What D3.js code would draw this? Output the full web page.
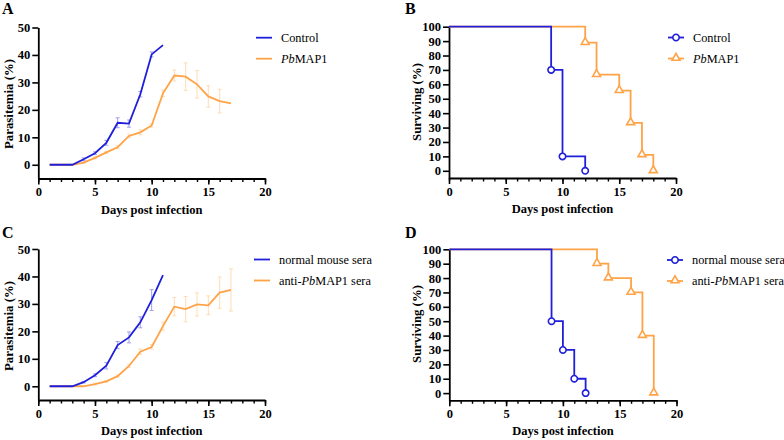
<!DOCTYPE html>
<html><head><meta charset="utf-8">
<script src="https://cdn.jsdelivr.net/npm/d3@7"></script>
<style>body{margin:0;background:#fff}svg{display:block}</style>
</head><body>
<script>
// ---------- data ----------
const daysFull = [1,2,3,4,5,6,7,8,9,10,11,12,13,14,15,16,17];
// Panel A
const aControl    = [0,0,0,2.0,4.2,8.0,15.3,15.0,25.7,40.2,43.6];
const aControlErr = [0,0,0,0.5,0.5,0.9,1.8,1.3,1.0,0.9,0];
const aMap1       = [0,0,0,0.8,2.5,4.5,6.4,10.5,11.8,14.3,26.0,32.5,32.1,29.3,24.9,23.2,22.4];
const aMap1Err    = [0,0,0,0.3,0.4,0.4,0.5,0.6,0.9,0.6,1.2,2.0,5.0,5.0,3.9,4.3,0];
// Panel C
const cNormal     = [0,0,0,1.5,4.0,7.5,15.0,17.8,23.3,31.4,40.5];
const cNormalErr  = [0,0,0,0.3,0.5,1.2,1.3,2.0,2.0,3.8,0];
const cAnti       = [0,0,0,0,0.8,1.8,3.7,7.4,12.6,14.3,21.9,29.0,28.1,29.8,29.5,34.1,35.1];
const cAntiErr    = [0,0,0,0,0.3,0.3,0.4,0.6,1.0,0.8,1.5,3.3,4.6,4.2,3.4,5.7,7.7];
// Panel B survival
const bCtrlDays = [0,9,10,12];          const bCtrlSurv = [100,70,10,0];
const bMapDays  = [0,12,13,15,16,17,18]; const bMapSurv  = [100,88.9,66.7,55.6,33.3,11.1,0];
// Panel D survival
const dNormDays = [0,9,10,11,12];        const dNormSurv = [100,50,30,10,0];
const dAntiDays = [0,13,14,16,17,18];    const dAntiSurv = [100,90,80,70,40,0];

const xTicksMajor = [0,5,10,15,20];
const paraTicks = [0,10,20,30,40,50];
const survTicks = [0,10,20,30,40,50,60,70,80,90,100];

const BLUE = "#1f1fdc", ORANGE = "#ffa347";
const BLUE_ERR = "#a0a0ea", ORANGE_ERR = "#ffdcb4";
const FONT = "Liberation Serif, Times New Roman, serif";

const svg = d3.select("body").append("svg").attr("width",784).attr("height",440)
  .attr("font-family",FONT);

function panel(opts){
  const {x0,x1,yTop,yBot,domainY,yTicks,letter,letterX,letterY,yTitle,yTitleY,yTitleX} = opts;
  const g = svg.append("g");
  const x = d3.scaleLinear().domain([0,20]).range([x0,x1]);
  const y = d3.scaleLinear().domain(domainY).range([yBot,yTop]);
  // minor x ticks
  g.append("g").attr("transform",`translate(0,${yBot})`)
    .call(d3.axisBottom(x).tickValues(d3.range(0,21)).tickSize(3.5).tickFormat(""))
    .call(a=>a.select(".domain").remove())
    .selectAll("line").attr("stroke","#000").attr("stroke-width",1.4);
  const xa = g.append("g").attr("transform",`translate(0,${yBot})`)
    .call(d3.axisBottom(x).tickValues(xTicksMajor).tickSize(6).tickPadding(3).tickSizeOuter(0))
    .attr("font-family",FONT);
  xa.select(".domain").attr("stroke","#000").attr("stroke-width",1.8);
  xa.selectAll("line").attr("stroke","#000").attr("stroke-width",1.6);
  xa.selectAll("text").attr("font-family",FONT).attr("font-weight","bold").attr("font-size",12.5).attr("fill","#000");
  const ya = g.append("g").attr("transform",`translate(${x0},0)`)
    .call(d3.axisLeft(y).tickValues(yTicks).tickSize(6).tickPadding(2).tickSizeOuter(0))
    .attr("font-family",FONT);
  ya.select(".domain").attr("stroke","#000").attr("stroke-width",1.8);
  ya.selectAll("line").attr("stroke","#000").attr("stroke-width",1.6);
  ya.selectAll("text").attr("font-family",FONT).attr("font-weight","bold").attr("font-size",12.5).attr("fill","#000");
  // titles
  g.append("text").attr("x",(x0+x1)/2).attr("y",yBot+35).attr("text-anchor","middle")
    .attr("font-family",FONT).attr("font-weight","bold").attr("font-size",12.5).text("Days post infection");
  g.append("text").attr("transform",`translate(${yTitleX},${yTitleY}) rotate(-90)`).attr("text-anchor","middle")
    .attr("font-family",FONT).attr("font-weight","bold").attr("font-size",12.8).text(yTitle);
  g.append("text").attr("x",letterX).attr("y",letterY).attr("font-family",FONT)
    .attr("font-weight","bold").attr("font-size",16).text(letter);
  return {g,x,y};
}

function errLines(p, vals, errs, color){
  const data = vals.map((v,i)=>({d:daysFull[i],v,e:errs[i]})).filter(o=>o.e>0);
  const eg = p.g.append("g").attr("stroke",color).attr("stroke-width",1);
  eg.selectAll(".v").data(data).join("line")
    .attr("x1",o=>p.x(o.d)).attr("x2",o=>p.x(o.d)).attr("y1",o=>p.y(o.v-o.e)).attr("y2",o=>p.y(o.v+o.e));
  eg.selectAll(".t").data(data).join("line")
    .attr("x1",o=>p.x(o.d)-2).attr("x2",o=>p.x(o.d)+2).attr("y1",o=>p.y(o.v+o.e)).attr("y2",o=>p.y(o.v+o.e));
  eg.selectAll(".b").data(data).join("line")
    .attr("x1",o=>p.x(o.d)-2).attr("x2",o=>p.x(o.d)+2).attr("y1",o=>p.y(o.v-o.e)).attr("y2",o=>p.y(o.v-o.e));
}
function dataLine(p, vals, color){
  const line = d3.line().x((v,i)=>p.x(daysFull[i])).y(v=>p.y(v));
  p.g.append("path").attr("d",line(vals)).attr("fill","none").attr("stroke",color).attr("stroke-width",1.8);
}
function stepLine(p, days, surv, color, shape){
  const pts = days.map((d,i)=>[d,surv[i]]);
  const line = d3.line().x(o=>p.x(o[0])).y(o=>p.y(o[1])).curve(d3.curveStepAfter);
  p.g.append("path").attr("d",line(pts)).attr("fill","none").attr("stroke",color).attr("stroke-width",1.8);
  const marks = pts.slice(1);
  drawMarkers(p.g, marks.map(o=>[p.x(o[0]),p.y(o[1])]), color, shape);
}
function drawMarkers(g, pts, color, shape){
  const sym = shape==="circle" ? d3.symbolCircle : d3.symbolTriangle;
  const size = shape==="circle" ? 32 : 27;
  g.selectAll(null).data(pts).join("path")
    .attr("transform",o=>`translate(${o[0]},${o[1]+(shape==="circle"?0:-0.5)})`)
    .attr("d",d3.symbol().type(sym).size(size)).attr("fill","#fff").attr("stroke",color).attr("stroke-width",1.6);
}
function legend(x, y, items, withMarkers){
  items.forEach((it,i)=>{
    const yy = y + i*21;
    svg.append("line").attr("x1",x).attr("x2",x+16).attr("y1",yy).attr("y2",yy)
      .attr("stroke",it.color).attr("stroke-width",1.8);
    if(withMarkers) drawMarkers(svg,[[x+8,yy]],it.color,it.shape);
    const t = svg.append("text").attr("x",x+25).attr("y",yy+4).attr("font-family",FONT).attr("font-size",12.3);
    it.parts.forEach(pt=>t.append("tspan").attr("font-style",pt[1]?"italic":"normal").text(pt[0]));
  });
}

// Panel A
const pA = panel({x0:38.3,x1:265,yTop:27.5,yBot:178.5,domainY:[-5,50],yTicks:paraTicks,
  letter:"A",letterX:2,letterY:14,yTitle:"Parasitemia (%)",yTitleY:104,yTitleX:13});
errLines(pA,aMap1,aMap1Err,ORANGE_ERR);
errLines(pA,aControl,aControlErr,BLUE_ERR);
dataLine(pA,aMap1,ORANGE);
dataLine(pA,aControl,BLUE);
legend(256,37.7,[{color:BLUE,parts:[["Control",false]]},{color:ORANGE,parts:[["Pb",true],["MAP1",false]]}],false);

// Panel B
const pB = panel({x0:449,x1:676,yTop:26.7,yBot:178,domainY:[-5,100],yTicks:survTicks,
  letter:"B",letterX:405,letterY:14,yTitle:"Surviving (%)",yTitleY:102,yTitleX:421});
stepLine(pB,bMapDays,bMapSurv,ORANGE,"triangle");
stepLine(pB,bCtrlDays,bCtrlSurv,BLUE,"circle");
legend(668,37.5,[{color:BLUE,shape:"circle",parts:[["Control",false]]},{color:ORANGE,shape:"triangle",parts:[["Pb",true],["MAP1",false]]}],true);

// Panel C
const pC = panel({x0:38.3,x1:265,yTop:249,yBot:400,domainY:[-5,50],yTicks:paraTicks,
  letter:"C",letterX:2,letterY:238,yTitle:"Parasitemia (%)",yTitleY:326,yTitleX:13});
errLines(pC,cAnti,cAntiErr,ORANGE_ERR);
errLines(pC,cNormal,cNormalErr,BLUE_ERR);
dataLine(pC,cAnti,ORANGE);
dataLine(pC,cNormal,BLUE);
legend(254,259.5,[{color:BLUE,parts:[["normal mouse sera",false]]},{color:ORANGE,parts:[["anti-",false],["Pb",true],["MAP1 sera",false]]}],false);

// Panel D
const pD = panel({x0:449.3,x1:676.5,yTop:249.3,yBot:400.3,domainY:[-5,100],yTicks:survTicks,
  letter:"D",letterX:405,letterY:238,yTitle:"Surviving (%)",yTitleY:324,yTitleX:421});
stepLine(pD,dAntiDays,dAntiSurv,ORANGE,"triangle");
stepLine(pD,dNormDays,dNormSurv,BLUE,"circle");
legend(667,260,[{color:BLUE,shape:"circle",parts:[["normal mouse sera",false]]},{color:ORANGE,shape:"triangle",parts:[["anti-",false],["Pb",true],["MAP1 sera",false]]}],true);
</script>
</body></html>
